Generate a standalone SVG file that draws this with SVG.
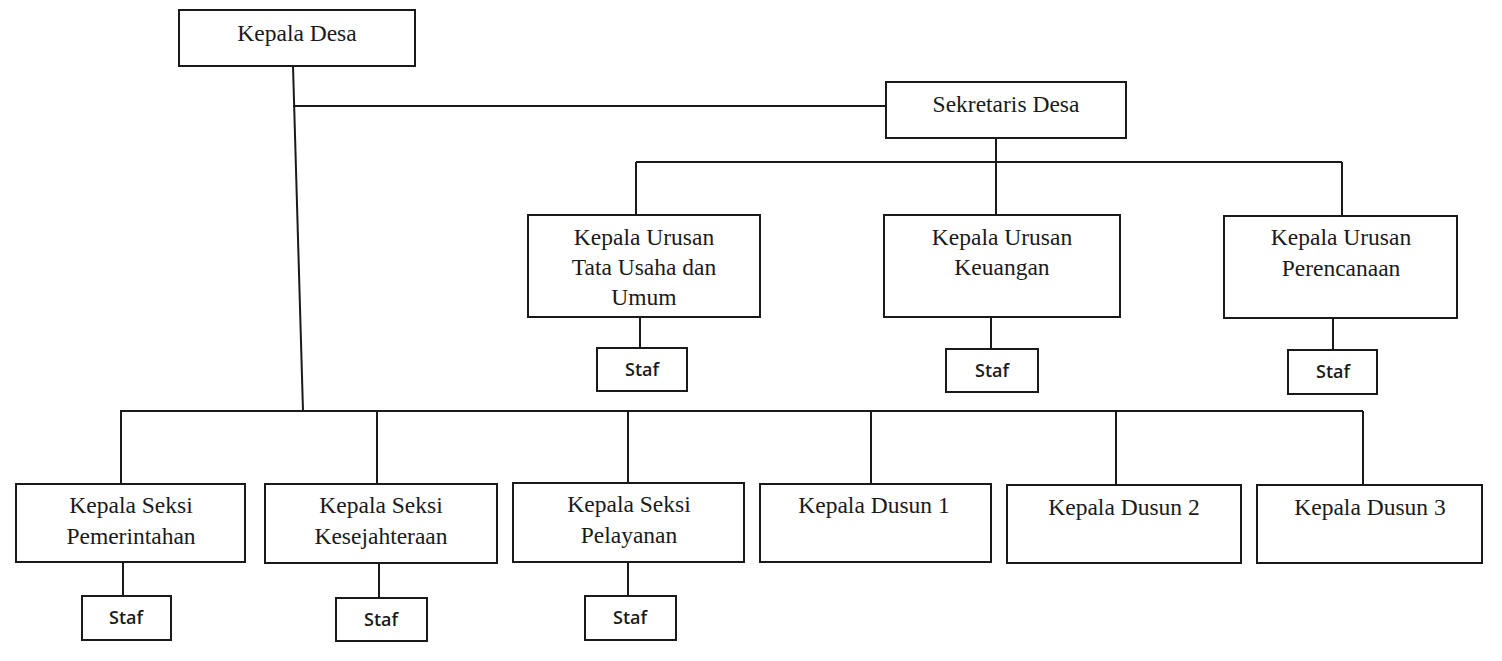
<svg xmlns="http://www.w3.org/2000/svg" width="1502" height="661" viewBox="0 0 1502 661">
<style>
.box{fill:#fff;stroke:#1a1a1a;stroke-width:2}
.conn line{stroke:#1a1a1a;stroke-width:2}
.t{font-family:"Liberation Serif","Times New Roman",serif;font-size:23.5px;fill:#1a1a1a;text-anchor:middle}
.s{font-family:"Open Sans","Liberation Sans",sans-serif;font-size:18px;font-weight:600;fill:#1a1a1a;text-anchor:middle}
</style>
<rect width="1502" height="661" fill="#fff"/>
<g id="connectors" class="conn">
<line x1="293" y1="66" x2="303" y2="411"/>
<line x1="293" y1="106" x2="886" y2="106"/>
<line x1="996" y1="138" x2="996" y2="162"/>
<line x1="636" y1="162" x2="1342" y2="162"/>
<line x1="636" y1="162" x2="636" y2="215"/>
<line x1="996" y1="162" x2="996" y2="215"/>
<line x1="1342" y1="162" x2="1342" y2="216"/>
<line x1="640" y1="317" x2="640" y2="348"/>
<line x1="991" y1="317" x2="991" y2="349"/>
<line x1="1333" y1="318" x2="1333" y2="350"/>
<line x1="120" y1="411" x2="1363" y2="411"/>
<line x1="121" y1="411" x2="121" y2="484"/>
<line x1="377" y1="411" x2="377" y2="484"/>
<line x1="628" y1="411" x2="628" y2="483"/>
<line x1="871" y1="411" x2="871" y2="484"/>
<line x1="1116" y1="411" x2="1116" y2="485"/>
<line x1="1363" y1="411" x2="1363" y2="485"/>
<line x1="123" y1="562" x2="123" y2="596"/>
<line x1="379" y1="563" x2="379" y2="598"/>
<line x1="628" y1="562" x2="628" y2="596"/>
</g>
<g id="kepala-desa"><rect class="box" x="179" y="10" width="236" height="56"/><text class="t" x="297" y="41">Kepala Desa</text></g>
<g id="sekretaris-desa"><rect class="box" x="886" y="82" width="240" height="56"/><text class="t" x="1006" y="112">Sekretaris Desa</text></g>
<g id="kaur-tu"><rect class="box" x="528" y="215" width="232" height="102"/><text class="t" x="644" y="245">Kepala Urusan</text><text class="t" x="644" y="275">Tata Usaha dan</text><text class="t" x="644" y="305">Umum</text></g>
<g id="kaur-keuangan"><rect class="box" x="884" y="215" width="236" height="102"/><text class="t" x="1002" y="245">Kepala Urusan</text><text class="t" x="1002" y="275">Keuangan</text></g>
<g id="kaur-perencanaan"><rect class="box" x="1224" y="216" width="233" height="102"/><text class="t" x="1341" y="245">Kepala Urusan</text><text class="t" x="1341" y="276">Perencanaan</text></g>
<g id="staf-tu"><rect class="box" x="597" y="348" width="90" height="43"/><text class="s" x="642" y="376">Staf</text></g>
<g id="staf-keuangan"><rect class="box" x="946" y="349" width="92" height="43"/><text class="s" x="992" y="377">Staf</text></g>
<g id="staf-perencanaan"><rect class="box" x="1288" y="350" width="89" height="44"/><text class="s" x="1333" y="378">Staf</text></g>
<g id="kasi-pemerintahan"><rect class="box" x="16" y="484" width="229" height="78"/><text class="t" x="131" y="513">Kepala Seksi</text><text class="t" x="131" y="544">Pemerintahan</text></g>
<g id="kasi-kesejahteraan"><rect class="box" x="265" y="484" width="232" height="79"/><text class="t" x="381" y="513">Kepala Seksi</text><text class="t" x="381" y="544">Kesejahteraan</text></g>
<g id="kasi-pelayanan"><rect class="box" x="513" y="483" width="231" height="79"/><text class="t" x="629" y="512">Kepala Seksi</text><text class="t" x="629" y="543">Pelayanan</text></g>
<g id="kadus-1"><rect class="box" x="760" y="484" width="231" height="78"/><text class="t" x="874" y="513">Kepala Dusun 1</text></g>
<g id="kadus-2"><rect class="box" x="1007" y="485" width="234" height="78"/><text class="t" x="1124" y="515">Kepala Dusun 2</text></g>
<g id="kadus-3"><rect class="box" x="1257" y="485" width="225" height="78"/><text class="t" x="1370" y="515">Kepala Dusun 3</text></g>
<g id="staf-pemerintahan"><rect class="box" x="82" y="596" width="89" height="44"/><text class="s" x="126" y="624">Staf</text></g>
<g id="staf-kesejahteraan"><rect class="box" x="336" y="598" width="91" height="43"/><text class="s" x="381" y="626">Staf</text></g>
<g id="staf-pelayanan"><rect class="box" x="585" y="596" width="91" height="44"/><text class="s" x="630" y="624">Staf</text></g>
</svg>
